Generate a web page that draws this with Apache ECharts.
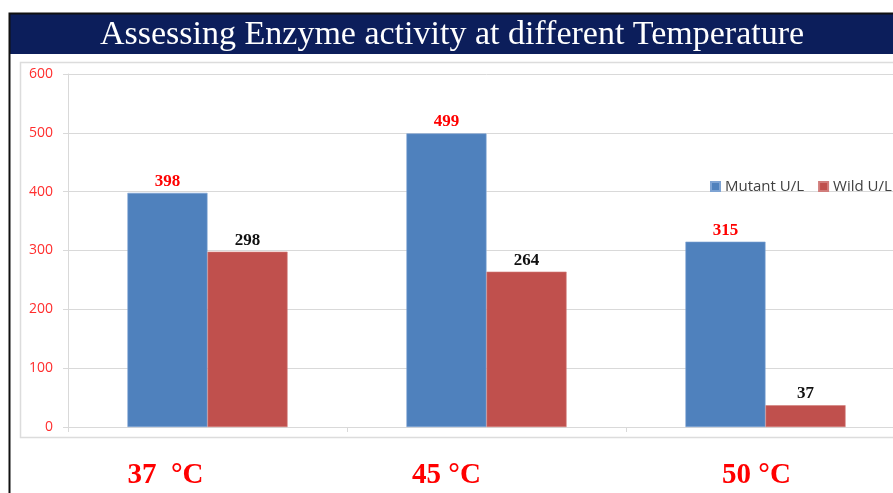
<!DOCTYPE html>
<html>
<head>
<meta charset="utf-8">
<script src="https://cdn.jsdelivr.net/npm/echarts@6/dist/echarts.min.js"></script>
<style>
  html, body { margin: 0; padding: 0; background: #ffffff; overflow: hidden; }
  /* the plot runs a little past the right edge of the picture, so the canvas is wider than the window */
  #chart { width: 905px; height: 493px; }
</style>
</head>
<body>
<div id="chart"></div>
<script>
const titleText = "Assessing Enzyme activity at different Temperature";
const temperatures = ["37  \u00B0C", "45 \u00B0C", "50 \u00B0C"];
const mutantValues = [398, 499, 315];
const wildValues = [298, 264, 37];
const seriesNames = ["Mutant U/L", "Wild U/L"];
const yTicks = [0, 100, 200, 300, 400, 500, 600];

// the big temperature labels sit a little left of each category centre
const labelShift = [42, 40, 9];

const chart = echarts.init(document.getElementById("chart"));

const serif = "'Liberation Serif', 'Times New Roman', serif";
const sans = "'Open Sans', 'Liberation Sans', Arial, sans-serif";

const option = {
  backgroundColor: "#ffffff",
  animation: false,
  title: {
    text: titleText,
    left: 95,
    top: 13,
    textStyle: {
      color: "#ffffff",
      fontFamily: serif,
      fontWeight: "normal",
      fontSize: 34
    }
  },
  graphic: [
    {
      type: "rect",
      z: -1,
      shape: { x: 10, y: 14, width: 900, height: 40 },
      style: { fill: "#0c1e5b" }
    },
    {
      type: "polyline",
      shape: { points: [[9.5, 493], [9.5, 13.5], [905, 13.5]] },
      style: { stroke: "#111111", lineWidth: 2, fill: null }
    },
    {
      type: "rect",
      z: -1,
      shape: { x: 20.5, y: 62.5, width: 900, height: 375 },
      style: { fill: null, stroke: "#dcdcdc", lineWidth: 1.5 }
    }
  ],
  legend: {
    data: seriesNames,
    left: 705,
    top: 174,
    icon: "rect",
    itemWidth: 9,
    itemHeight: 9,
    itemGap: 14,
    textStyle: { color: "#404040", fontFamily: sans, fontSize: 15 }
  },
  grid: {
    left: 68,
    right: 0,
    top: 74,
    bottom: 66,
    containLabel: false
  },
  xAxis: {
    type: "category",
    data: temperatures.map((t, i) => ({
      value: t,
      textStyle: { padding: [0, labelShift[i] * 2, 0, 0] }
    })),
    axisLine: { lineStyle: { color: "#d9d9d9", width: 1 } },
    axisTick: { show: true, length: 5, lineStyle: { color: "#d9d9d9" } },
    axisLabel: {
      margin: 34,
      color: "#ff0000",
      fontFamily: serif,
      fontWeight: "bold",
      fontSize: 29
    }
  },
  yAxis: {
    type: "value",
    min: yTicks[0],
    max: yTicks[yTicks.length - 1],
    interval: yTicks[1] - yTicks[0],
    axisLine: { show: true, lineStyle: { color: "#d9d9d9" } },
    axisTick: { show: true, length: 5, lineStyle: { color: "#d9d9d9" } },
    splitLine: { lineStyle: { color: "#d9d9d9" } },
    axisLabel: {
      margin: 15,
      color: "#ff2e2e",
      fontFamily: sans,
      fontSize: 14
    }
  },
  series: [
    {
      name: seriesNames[0],
      type: "bar",
      data: mutantValues,
      barGap: "0%",
      barCategoryGap: "42.6%",
      itemStyle: { color: "#4f81bd", borderColor: "#7ea3d3", borderWidth: 0.6 },
      label: {
        show: true,
        position: "top",
        distance: 3,
        color: "#ff0000",
        fontFamily: serif,
        fontWeight: "bold",
        fontSize: 17
      }
    },
    {
      name: seriesNames[1],
      type: "bar",
      data: wildValues,
      itemStyle: { color: "#c0504d", borderColor: "#d17d7b", borderWidth: 0.6 },
      label: {
        show: true,
        position: "top",
        distance: 3,
        color: "#111111",
        fontFamily: serif,
        fontWeight: "bold",
        fontSize: 17
      }
    }
  ]
};

chart.setOption(option);
window.addEventListener("resize", () => chart.resize());
</script>
</body>
</html>
